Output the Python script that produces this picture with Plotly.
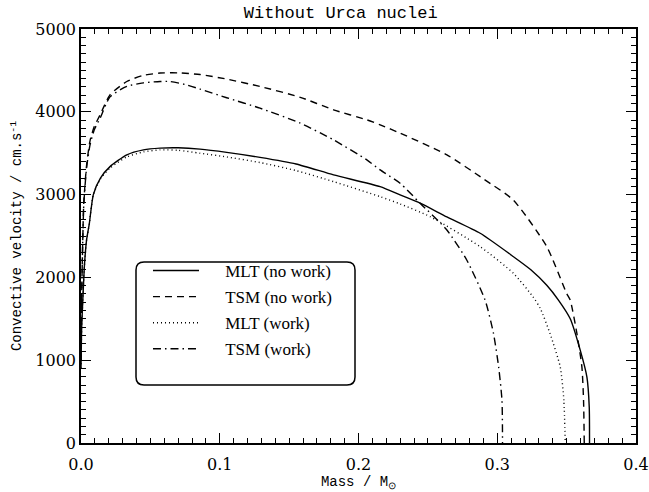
import plotly.graph_objects as go

# ---- data (Mass / Msun, convective velocity cm/s) ----
mlt_nowork_m = [0, 0.0005, 0.0015, 0.0025, 0.004, 0.006, 0.0089, 0.014, 0.0209, 0.033, 0.045, 0.057,
                0.07, 0.0858, 0.105, 0.129, 0.155, 0.182, 0.2156, 0.230, 0.2444, 0.2637, 0.2877,
                0.3117, 0.324, 0.3357, 0.3441, 0.3526, 0.3598, 0.3646, 0.3663, 0.3665]
mlt_nowork_v = [900, 1400, 1800, 2150, 2450, 2650, 3000, 3200, 3338, 3480, 3540, 3561,
                3565, 3549, 3510, 3450, 3370, 3238, 3096, 2996, 2896, 2730, 2533,
                2250, 2095, 1905, 1726, 1500, 1121, 798, 435, 0]

tsm_nowork_m = [0, 0.0004, 0.0012, 0.002, 0.004, 0.0065, 0.0095, 0.0137, 0.0209, 0.033, 0.045, 0.057,
                0.07, 0.0858, 0.105, 0.129, 0.158, 0.182, 0.206, 0.2156, 0.230, 0.2637, 0.29,
                0.3115, 0.3357, 0.350, 0.3526, 0.3574, 0.361, 0.3622, 0.3627]
tsm_nowork_v = [1000, 1700, 2400, 2900, 3350, 3650, 3820, 3960, 4205, 4366, 4440, 4468,
                4470, 4450, 4395, 4306, 4175, 4024, 3903, 3843, 3742, 3480, 3190,
                2935, 2371, 1807, 1726, 1323, 919, 516, 0]

mlt_work_m = [0, 0.0005, 0.0015, 0.0025, 0.004, 0.006, 0.0089, 0.014, 0.0209, 0.033, 0.045, 0.057,
              0.07, 0.0858, 0.105, 0.129, 0.155, 0.182, 0.2156, 0.230, 0.2516, 0.2877, 0.3117,
              0.326, 0.331, 0.338, 0.3454, 0.348, 0.349]
mlt_work_v = [900, 1400, 1800, 2150, 2450, 2650, 3000, 3190, 3320, 3455, 3515, 3540,
              3535, 3500, 3455, 3387, 3290, 3157, 2975, 2887, 2734, 2371, 2049,
              1760, 1626, 1323, 919, 516, 0]

tsm_work_m = [0, 0.0004, 0.0012, 0.002, 0.004, 0.0065, 0.0095, 0.0137, 0.0209, 0.033, 0.045, 0.057,
              0.064, 0.075, 0.0858, 0.105, 0.129, 0.158, 0.182, 0.206, 0.2156, 0.230, 0.2444,
              0.2637, 0.278, 0.2913, 0.2973, 0.301, 0.3034, 0.3038]
tsm_work_v = [1000, 1700, 2400, 2880, 3320, 3600, 3780, 3920, 4180, 4306, 4350, 4366,
              4366, 4330, 4274, 4170, 4044, 3863, 3661, 3419, 3298, 3137, 2896,
              2573, 2210, 1722, 1323, 919, 516, 0]

series_names = ["MLT (no work)", "TSM (no work)", "MLT (work)", "TSM (work)"]

series = [
    (mlt_nowork_m, mlt_nowork_v, "solid"),
    (tsm_nowork_m, tsm_nowork_v, "7px,5px"),
    (mlt_work_m, mlt_work_v, "1px,3px"),
    (tsm_work_m, tsm_work_v, "8px,4px,1.5px,4px"),
]

PAD = "\u00a0" * 5  # visual gap between legend sample and label

fig = go.Figure()
for i, (m, v, dash) in enumerate(series):
    fig.add_trace(go.Scatter(
        x=m, y=v, mode="lines", name=PAD + series_names[i], legendgroup=str(i),
        line=dict(color="black", width=1.4, dash=dash, shape="spline", smoothing=0.6),
    ))

# rounded legend box
W, H = 555.0, 414.0
x0, x1 = 55 / W, 274 / W
y0, y1 = (443 - 385) / H, (443 - 262) / H
rx, ry = 8 / W, 8 / H
path = (f"M {x0+rx},{y0} L {x1-rx},{y0} Q {x1},{y0} {x1},{y0+ry} "
        f"L {x1},{y1-ry} Q {x1},{y1} {x1-rx},{y1} L {x0+rx},{y1} Q {x0},{y1} {x0},{y1-ry} "
        f"L {x0},{y0+ry} Q {x0},{y0} {x0+rx},{y0} Z")
fig.add_shape(type="path", path=path, xref="paper", yref="paper",
              line=dict(color="black", width=1.5), fillcolor="white", layer="below")

axis_common = dict(
    showline=True, linecolor="black", linewidth=1.5, mirror="allticks",
    ticks="inside", ticklen=10, tickwidth=1, tickcolor="black",
    showgrid=False, zeroline=False, automargin=False,
    tickfont=dict(family="DejaVu Serif", size=16, color="black"),
)

fig.update_layout(
    width=649, height=492,
    margin=dict(l=81, r=13, t=29, b=49),
    paper_bgcolor="white", plot_bgcolor="white",
    title=dict(text="Without Urca nuclei", x=0.525, xanchor="center", y=0.975, yanchor="middle",
               font=dict(family="Liberation Mono", size=17, color="black")),
    xaxis=dict(range=[0, 0.4], tick0=0, dtick=0.1, tickformat=".1f", ticklabelstandoff=6,
               minor=dict(dtick=0.01, ticks="inside", ticklen=5, tickcolor="black", showgrid=False),
               title=dict(text="Mass / M<sub>⊙</sub>", standoff=1,
                          font=dict(family="Liberation Mono", size=14, color="black")),
               **axis_common),
    yaxis=dict(range=[0, 5000], tick0=0, dtick=1000,
               minor=dict(dtick=100, ticks="inside", ticklen=5, tickcolor="black", showgrid=False),
               title=dict(text="Convective velocity / cm.s<sup>-1</sup>", standoff=10,
                          font=dict(family="Liberation Mono", size=14, color="black")),
               **axis_common),
    legend=dict(x=0.1207, y=0.459, xanchor="left", yanchor="top",
                bgcolor="rgba(0,0,0,0)", borderwidth=0,
                font=dict(family="Liberation Serif", size=17, color="black"),
                itemwidth=46, tracegroupgap=1, traceorder="grouped"),
    showlegend=True,
)

fig.write_html("out.html", config={"displayModeBar": False},
               post_script="document.body.style.margin='0';")
